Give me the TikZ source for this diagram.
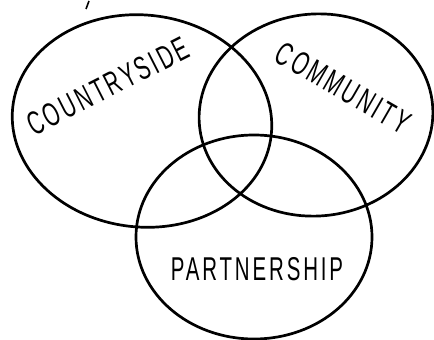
\documentclass[tikz,border=0pt]{standalone}
\usepackage{fontspec}
\setmainfont{Liberation Sans}
\begin{document}
\begin{tikzpicture}[x=1pt,y=-1pt,
  ring/.style={line width=2.7pt,draw=black},
  lbl/.style={font=\fontsize{33}{33}\selectfont\addfontfeature{LetterSpace=14}, inner sep=0pt}]
\useasboundingbox (0,0) rectangle (434,340);
\draw[ring,rotate around={-6:(142,121)}] (142,121) ellipse [x radius=130, y radius=106];
\draw[ring,rotate around={5:(316,115)}] (316,115) ellipse [x radius=117, y radius=101];
\draw[ring] (254,237) ellipse [x radius=118, y radius=102];
\draw[line width=1.6pt] (89,1) -- (86,9);
\node[lbl,rotate=27,xscale=0.62] (countryside) at (108,86) {COUNTRYSIDE};
\node[lbl,rotate=-30,xscale=0.62] (community) at (343,88) {COMMUNITY};
\node[lbl,xscale=0.62] (partnership) at (257,269) {PARTNERSHIP};
\end{tikzpicture}
\end{document}
